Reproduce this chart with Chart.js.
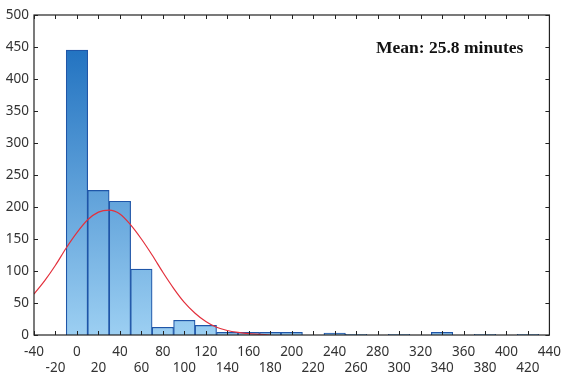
<!DOCTYPE html>
<html>
<head>
<meta charset="utf-8">
<script src="https://cdn.jsdelivr.net/npm/chart.js@4.4.0/dist/chart.umd.min.js"></script>
<style>
  html, body { margin: 0; padding: 0; background: #fff; }
  #wrap { position: relative; width: 570px; height: 376px; }
  #note { position: absolute; left: 376px; top: 37px; font: bold 17.5px "Liberation Serif", serif; color: #111; white-space: nowrap; }
</style>
</head>
<body>
<div id="wrap">
  <canvas id="histChart" width="570" height="376"></canvas>
  <div id="note">Mean: 25.8 minutes</div>
</div>
<script>
// histogram bins (width 20, centred on these values)
var binCenters = [0, 20, 40, 60, 80, 100, 120, 140, 160, 180, 200, 220, 240, 260, 280, 300, 320, 340, 360, 380, 400, 420];
var binCounts  = [445, 226, 209, 103, 12, 23, 15, 4, 4, 4, 4, 0, 3, 1, 0, 1, 0, 4, 0, 1, 0, 1];

// fitted normal curve
var curveX = [-40, -30, -20, -10, 0, 10, 20, 30, 40, 50, 60, 70, 80, 90, 100, 110, 120, 130, 140, 150, 160, 170, 180];
var curveY = [64, 85, 109, 136, 160, 180, 192, 195, 189, 172, 150, 125, 98, 73, 51, 34, 21, 12, 7, 4, 2, 1, 0];

var xMin = -40, xMax = 440, xStep = 20;
var yMin = 0, yMax = 500, yStep = 50;

var barPoints = binCenters.map(function (c, i) { return { x: c, y: binCounts[i] }; });
var curvePoints = curveX.map(function (c, i) { return { x: c, y: curveY[i] }; });

function barFill(context) {
  var chart = context.chart;
  var area = chart.chartArea;
  if (!area) return "#4a9ede";
  var g = chart.ctx.createLinearGradient(0, area.top, 0, area.bottom);
  g.addColorStop(0, "#1468bb");
  g.addColorStop(1, "#9ccff2");
  return g;
}

// frame with inward tick marks on all four sides
var framePlugin = {
  id: "frame",
  afterDraw: function (chart) {
    var ctx = chart.ctx, a = chart.chartArea;
    var xs = chart.scales.x, ys = chart.scales.y;
    ctx.save();
    ctx.strokeStyle = "#222";
    ctx.lineWidth = 1.2;
    ctx.strokeRect(a.left, a.top, a.right - a.left, a.bottom - a.top);
    ctx.lineWidth = 1;
    ctx.beginPath();
    xs.ticks.forEach(function (t) {
      var px = Math.round(xs.getPixelForValue(t.value)) + 0.5;
      ctx.moveTo(px, a.bottom); ctx.lineTo(px, a.bottom - 4);
      ctx.moveTo(px, a.top); ctx.lineTo(px, a.top + 4);
    });
    ys.ticks.forEach(function (t) {
      var py = Math.round(ys.getPixelForValue(t.value)) + 0.5;
      ctx.moveTo(a.left, py); ctx.lineTo(a.left + 4, py);
      ctx.moveTo(a.right, py); ctx.lineTo(a.right - 4, py);
    });
    ctx.stroke();
    ctx.restore();
  }
};

var ctx = document.getElementById("histChart").getContext("2d");

var histChart = new Chart(ctx, {
  type: "bar",
  data: {
    datasets: [
      {
        type: "line",
        label: "Normal fit",
        data: curvePoints,
        borderColor: "#e3303c",
        borderWidth: 1.2,
        pointRadius: 0,
        fill: false,
        cubicInterpolationMode: "monotone",
        order: 0
      },
      {
        label: "Count",
        data: barPoints,
        backgroundColor: barFill,
        borderColor: "#1f56a8",
        borderWidth: 1.2,
        barPercentage: 1,
        categoryPercentage: 1,
        grouped: false,
        order: 1
      }
    ]
  },
  options: {
    responsive: false,
    animation: false,
    layout: { padding: { top: 15, right: 16, left: 0, bottom: 0 } },
    plugins: {
      legend: { display: false },
      tooltip: { enabled: false }
    },
    scales: {
      x: {
        type: "linear",
        min: xMin,
        max: xMax,
        offset: false,
        grid: { display: false, drawTicks: false },
        border: { display: false },
        ticks: {
          stepSize: xStep,
          autoSkip: false,
          maxRotation: 0,
          padding: 9,
          color: "#333",
          font: { family: "Noto Sans", size: 13.5 },
          callback: function (value, index) {
            return index % 2 === 0 ? [String(value), ""] : ["", String(value)];
          }
        },
        afterFit: function (scale) { scale.height = 41; }
      },
      y: {
        min: yMin,
        max: yMax,
        grid: { display: false, drawTicks: false },
        border: { display: false },
        ticks: {
          stepSize: yStep,
          padding: 5,
          color: "#333",
          font: { family: "Noto Sans", size: 13.5 }
        },
        afterFit: function (scale) { scale.width = 34; }
      }
    }
  },
  plugins: [framePlugin]
});
</script>
</body>
</html>
